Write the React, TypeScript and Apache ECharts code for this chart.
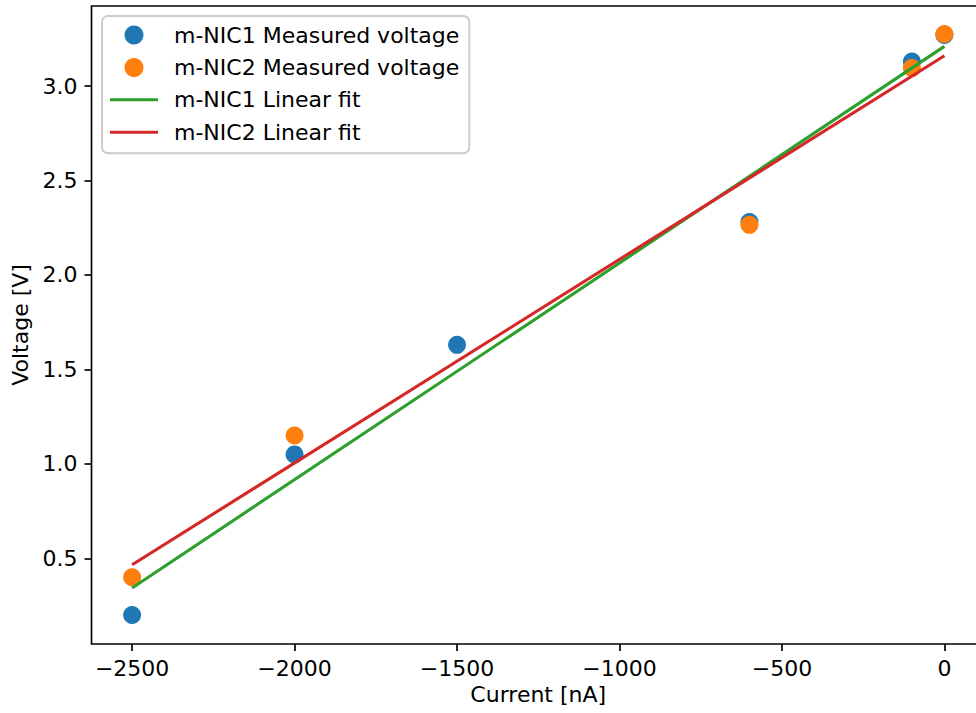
import React, { useEffect, useRef } from "react";
import * as echarts from "echarts";

const xTicks = [-2500, -2000, -1500, -1000, -500, 0];
const yTicks = [0.5, 1.0, 1.5, 2.0, 2.5, 3.0];

const nic1Current = [-2500, -2000, -1500, -600, -100, 0];
const nic1Voltage = [0.2, 1.05, 1.63, 2.28, 3.13, 3.27];

const nic2Current = [-2500, -2000, -600, -100, 0];
const nic2Voltage = [0.4, 1.15, 2.265, 3.095, 3.275];

const fitCurrent = [-2500, 0];
const nic1Fit = [0.343, 3.21];
const nic2Fit = [0.466, 3.16];

const FONT = "DejaVu Sans";
const FS = 22;
const LINE_ICON = "path://M0,0L16,0L16,1L0,1Z";

export default function App() {
  const ref = useRef<HTMLDivElement>(null);
  useEffect(() => {
    if (!ref.current) return;
    const chart = echarts.init(ref.current, null, { renderer: "svg" });
    const zip = (xs: number[], ys: number[]) => xs.map((x, i) => [x, ys[i]]);
    chart.setOption({
      animation: false,
      backgroundColor: "#ffffff",
      textStyle: { fontFamily: FONT },
      grid: {
        left: 91.5,
        right: 15,
        top: 6,
        bottom: 69,
        show: true,
        borderColor: "#000",
        borderWidth: 1.67,
        backgroundColor: "transparent",
      },
      xAxis: {
        type: "value",
        min: -2625,
        max: 125,
        name: "Current [nA]",
        nameLocation: "middle",
        nameGap: 39,
        nameTextStyle: { fontFamily: FONT, fontSize: FS, color: "#000" },
        axisLine: { show: false, onZero: false },
        splitLine: { show: false },
        axisTick: {
          show: true,
          customValues: xTicks,
          length: 7,
          lineStyle: { color: "#000", width: 1.67 },
        },
        axisLabel: {
          customValues: xTicks,
          margin: 13,
          fontFamily: FONT,
          fontSize: FS,
          color: "#000",
          formatter: (v: number) => String(v).replace("-", "\u2212"),
        },
      },
      yAxis: {
        type: "value",
        min: 0.0465,
        max: 3.4235,
        name: "Voltage [V]",
        nameLocation: "middle",
        nameGap: 58,
        nameTextStyle: { fontFamily: FONT, fontSize: FS, color: "#000" },
        axisLine: { show: false, onZero: false },
        splitLine: { show: false },
        axisTick: {
          show: true,
          customValues: yTicks,
          length: 7,
          lineStyle: { color: "#000", width: 1.67 },
        },
        axisLabel: {
          customValues: yTicks,
          margin: 14,
          fontFamily: FONT,
          fontSize: FS,
          color: "#000",
          formatter: (v: number) => v.toFixed(1),
        },
      },
      legend: {
        orient: "vertical",
        left: 102,
        top: 16,
        padding: [8, 10, 10, 8],
        itemGap: 10.4,
        itemWidth: 48,
        itemHeight: 19,
        backgroundColor: "rgba(255,255,255,0.8)",
        borderColor: "#cccccc",
        borderWidth: 2,
        borderRadius: 6,
        textStyle: {
          fontFamily: FONT,
          fontSize: FS,
          color: "#000",
          padding: [0, 0, 0, 11],
        },
        data: [
          { name: "m-NIC1 Measured voltage" },
          { name: "m-NIC2 Measured voltage" },
          { name: "m-NIC1 Linear fit", icon: LINE_ICON },
          { name: "m-NIC2 Linear fit", icon: LINE_ICON },
        ],
      },
      series: [
        {
          name: "m-NIC1 Measured voltage",
          type: "scatter",
          z: 2,
          symbol: "circle",
          symbolSize: 18,
          itemStyle: { color: "#1f77b4", opacity: 1 },
          data: zip(nic1Current, nic1Voltage),
        },
        {
          name: "m-NIC2 Measured voltage",
          type: "scatter",
          z: 3,
          symbol: "circle",
          symbolSize: 18,
          itemStyle: { color: "#ff7f0e", opacity: 1 },
          data: zip(nic2Current, nic2Voltage),
        },
        {
          name: "m-NIC1 Linear fit",
          type: "line",
          z: 4,
          symbol: "none",
          showSymbol: false,
          lineStyle: { color: "#2ca02c", width: 3.1 },
          itemStyle: { color: "#2ca02c" },
          data: zip(fitCurrent, nic1Fit),
        },
        {
          name: "m-NIC2 Linear fit",
          type: "line",
          z: 5,
          symbol: "none",
          showSymbol: false,
          lineStyle: { color: "#d62728", width: 3.1 },
          itemStyle: { color: "#d62728" },
          data: zip(fitCurrent, nic2Fit),
        },
      ],
    });
    return () => chart.dispose();
  }, []);
  return (
    <div
      style={{
        position: "fixed",
        left: 0,
        top: 0,
        width: 976,
        height: 713,
        overflow: "hidden",
        background: "#fff",
      }}
    >
      <div ref={ref} style={{ width: 1000, height: 713 }} />
    </div>
  );
}
